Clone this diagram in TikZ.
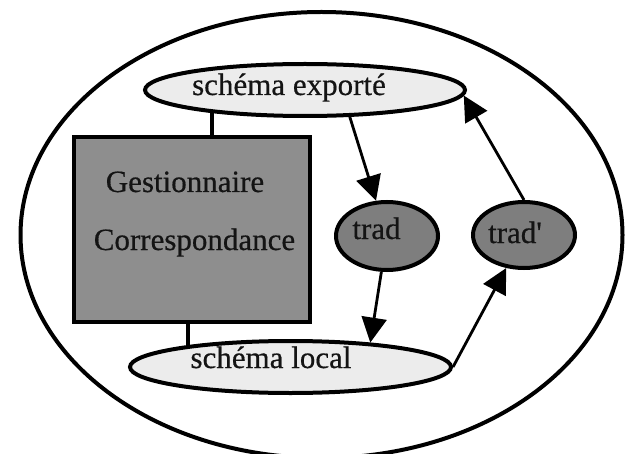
\documentclass[tikz,border=0pt]{standalone}
\usepackage{fontspec}
\newfontfamily\labelfont{Liberation Serif}[FakeBold=0.5]
\usetikzlibrary{arrows.meta,shapes.geometric,calc,backgrounds}
\definecolor{palefill}{HTML}{ECECEC}
\definecolor{boxfill}{HTML}{8E8E8E}
\definecolor{opfill}{HTML}{7E7E7E}
\definecolor{ink}{HTML}{141414}

\begin{document}
\begin{tikzpicture}[x=1pt,y=-1pt,
  schema/.style={ellipse, draw, line width=4pt, fill=palefill, inner sep=0pt},
  opnode/.style={ellipse, draw, line width=4pt, fill=opfill, inner sep=0pt},
  lbl/.style={font=\labelfont\fontsize{31}{31}\selectfont, text=ink, inner sep=0pt, anchor=base},
  arr/.style={line width=2.8pt, -{Triangle[length=25pt,width=25pt]}},
  tickline/.style={line width=3.2pt}]

\useasboundingbox (0,0) rectangle (628,454);
\clip (0,0) rectangle (628,454);

% enclosing system boundary
\draw[line width=4pt] (321.5,235) ellipse [x radius=301, y radius=223];

% components
\node[schema, minimum width=320pt, minimum height=52pt] (exp) at (305,90) {};
\node[schema, minimum width=321pt, minimum height=52pt] (loc) at (290.5,367) {};
\node[draw, line width=4pt, fill=boxfill, inner sep=0pt,
      minimum width=236pt, minimum height=185pt] (gc) at (192,229.5) {};
\node[opnode, minimum width=102pt, minimum height=68pt] (trad) at (387,236) {};
\node[opnode, minimum width=102pt, minimum height=66pt] (tradp) at (524,235) {};

% labels
\node[lbl] (expt) at ($(exp.center)+(-16,5)$) {schéma exporté};
\node[lbl] (loct) at ($(loc.center)+(-19.5,1)$) {schéma local};
\node[lbl] (gct1) at ($(gc.center)+(-7,-37.5)$) {Gestionnaire};
\node[lbl] (gct2) at ($(gc.center)+(2.5,20.5)$) {Correspondance};
\node[lbl] (tradt) at ($(trad.center)+(-10.5,3)$) {trad};
\node[lbl] (tradpt) at ($(tradp.center)+(-9,8)$) {trad'};

% links between the manager and the schemas
\coordinate (ta) at ($(gc.north west)+(140,0)$);
\coordinate (tb) at ($(gc.south west)+(116,0)$);
\begin{scope}[on background layer]
  \draw[tickline] (ta) -- (ta |- exp.center);
  \draw[tickline] (tb) -- (tb |- loc.center);
\end{scope}

% translation flows
\draw[arr] (exp.-31) -- (trad);
\draw[arr] (trad) -- (loc.17);
\draw[arr] (loc.east) -- (tradp);
\draw[arr] (tradp.north) -- (exp.-2);
\end{tikzpicture}
\end{document}
